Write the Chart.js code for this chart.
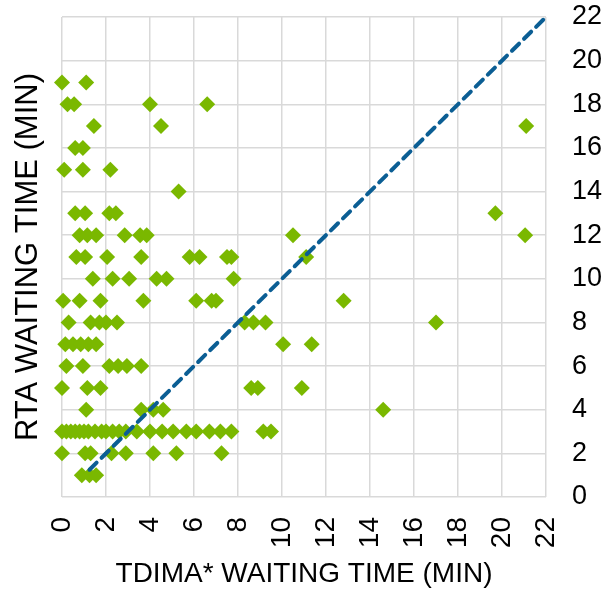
<!DOCTYPE html>
<html>
  <head>
    <meta charset="utf-8" />
    <script src="https://cdn.jsdelivr.net/npm/chart.js"></script>
    <title>Waiting time</title>
    <style>
      html, body { margin: 0; padding: 0; background: #fff; }
      #wrap { width: 607px; height: 591px; }
    </style>
  </head>
  <body>
    <div id="wrap"><canvas id="chart"></canvas></div>
    <script>
      // TDIMA* waiting time (x) and RTA waiting time (y), in minutes
      var tdima = [
        0, 1.1,
        0.25, 0.55, 4.0, 6.6,
        1.45, 4.5, 21.1,
        0.6, 0.95,
        0.1, 0.95, 2.2,
        5.3,
        0.6, 1.05, 2.15, 2.45, 19.7,
        0.8, 1.15, 1.55, 2.85, 3.55, 3.85, 10.5, 21.05,
        0.65, 1.05, 2.05, 3.6, 5.8, 6.25, 7.5, 7.7, 11.1,
        1.4, 2.3, 3.05, 4.3, 4.75, 7.8,
        0.05, 0.8, 1.75, 3.7, 6.1, 6.8, 7.0, 12.8,
        0.3, 1.3, 1.7, 2.0, 2.5, 8.3, 8.7, 9.25, 17.0,
        0.15, 0.5, 0.85, 1.2, 1.55, 10.05, 11.35,
        0.2, 0.95, 2.15, 2.55, 2.95, 3.6,
        0, 1.15, 1.75, 8.6, 8.9, 10.9,
        1.1, 3.6, 4.15, 4.6, 14.6,
        0, 0.2, 0.4, 0.6, 0.8, 1.0, 1.2, 1.5, 1.8, 2.0, 2.3, 2.6, 2.9,
        3.4, 4.0, 4.55, 5.05, 5.65, 6.1, 6.7, 7.2, 7.7, 9.15, 9.5,
        0, 1.05, 1.3, 2.25, 2.9, 4.15, 5.2, 7.25,
        0.9, 1.25, 1.55
      ];
      var rta = [
        19, 19,
        18, 18, 18, 18,
        17, 17, 17,
        16, 16,
        15, 15, 15,
        14,
        13, 13, 13, 13, 13,
        12, 12, 12, 12, 12, 12, 12, 12,
        11, 11, 11, 11, 11, 11, 11, 11, 11,
        10, 10, 10, 10, 10, 10,
        9, 9, 9, 9, 9, 9, 9, 9,
        8, 8, 8, 8, 8, 8, 8, 8, 8,
        7, 7, 7, 7, 7, 7, 7,
        6, 6, 6, 6, 6, 6,
        5, 5, 5, 5, 5, 5,
        4, 4, 4, 4, 4,
        3, 3, 3, 3, 3, 3, 3, 3, 3, 3, 3, 3, 3,
        3, 3, 3, 3, 3, 3, 3, 3, 3, 3, 3,
        2, 2, 2, 2, 2, 2, 2, 2,
        1, 1, 1
      ];

      // dashed reference line
      var lineX = [1.25, 22];
      var lineY = [1.25, 22];

      var axisTicks = [0, 2, 4, 6, 8, 10, 12, 14, 16, 18, 20, 22];

      var points = tdima.map(function (x, i) {
        return { x: x, y: rta[i] };
      });
      var line = lineX.map(function (x, i) {
        return { x: x, y: lineY[i] };
      });

      Chart.defaults.font.family = "'Liberation Sans', Arial, sans-serif";
      Chart.defaults.color = "#000";

      var gridStyle = { color: "#d9d9d9", lineWidth: 1.5, drawTicks: false };

      function setTicks(axis) {
        axis.ticks = axisTicks.map(function (v) { return { value: v }; });
      }
      // fixed axis sizes so the plot area lands where the original has it
      function fitTo(size) {
        return function (axis) {
          if (axis.isHorizontal()) axis.height = size;
          else axis.width = size;
          axis.paddingTop = 0;
          axis.paddingBottom = 0;
          axis.paddingLeft = 0;
          axis.paddingRight = 0;
        };
      }

      new Chart(document.getElementById("chart"), {
        type: "scatter",
        data: {
          datasets: [
            {
              type: "line",
              data: line,
              borderColor: "#0b5e94",
              borderWidth: 4,
              borderDash: [10, 7],
              borderCapStyle: "round",
              pointRadius: 0,
              fill: false,
              clip: false,
              order: 0,
            },
            {
              data: points,
              pointStyle: "rectRot",
              pointRadius: 8,
              pointHoverRadius: 8,
              backgroundColor: "#7ab800",
              borderWidth: 0,
              clip: false,
              order: 1,
            },
          ],
        },
        options: {
          responsive: true,
          maintainAspectRatio: false,
          animation: false,
          layout: { padding: { top: 17, right: 0, left: 0, bottom: 0 } },
          plugins: { legend: { display: false }, tooltip: { enabled: false } },
          scales: {
            x: {
              type: "linear",
              min: 0,
              max: 22,
              afterBuildTicks: setTicks,
              afterFit: fitTo(94),
              grid: gridStyle,
              border: { display: false },
              ticks: { minRotation: 90, maxRotation: 90, padding: 20, font: { size: 28 } },
              title: {
                display: true,
                text: "TDIMA* WAITING TIME (MIN)",
                font: { size: 28 },
                padding: { top: 0, bottom: 0 },
              },
            },
            y: {
              type: "linear",
              position: "right",
              min: 0,
              max: 22,
              afterBuildTicks: setTicks,
              afterFit: fitTo(61),
              grid: gridStyle,
              border: { display: false },
              ticks: { crossAlign: "near", padding: 26, font: { size: 27 } },
            },
            yTitle: {
              type: "linear",
              position: "left",
              min: 0,
              max: 22,
              afterFit: fitTo(62),
              grid: { display: false, drawTicks: false },
              border: { display: false },
              ticks: { display: false },
              title: {
                display: true,
                text: "RTA WAITING TIME (MIN)",
                font: { size: 31 },
                padding: { top: 10, bottom: 0 },
              },
            },
          },
        },
      });
    </script>
  </body>
</html>
